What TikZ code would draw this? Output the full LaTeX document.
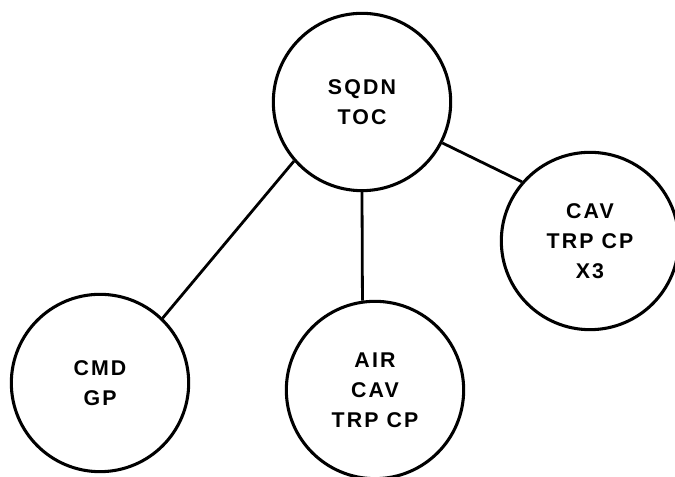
\documentclass[tikz,border=0pt]{standalone}
\usepackage{fontspec}
\setmainfont{Liberation Sans}
\newfontfamily\stationfont[LetterSpace=10]{Liberation Sans Bold}
\tikzset{
  station/.style={circle, draw, line width=2.3pt, minimum size=133pt, inner sep=0pt,
    align=center, font=\stationfont\fontsize{16}{22.5}\selectfont},
  link/.style={line width=2.1pt}
}

\begin{document}
\begin{tikzpicture}[x=0.75pt, y=0.75pt]
			%%%%% START %%%%%
			\useasboundingbox (0, 0) rectangle (675, 477);
			
			\node[station] (sqdn) at (362, 375) {SQDN\\TOC};
			\node[station] (cmd) at (100, 94) {CMD\\GP};
			\node[station] (air) at (375, 87) {AIR\\CAV\\TRP CP};
			\node[station] (cav) at (590, 236) {CAV\\TRP CP\\X3};
			
			\draw[link] (sqdn.221) -- (cmd.46);
			\draw[link] (sqdn.270) -- (air.98);
			\draw[link] (sqdn.333) -- (cav.139);
			%%%%% END %%%%%
\end{tikzpicture}
\end{document}
